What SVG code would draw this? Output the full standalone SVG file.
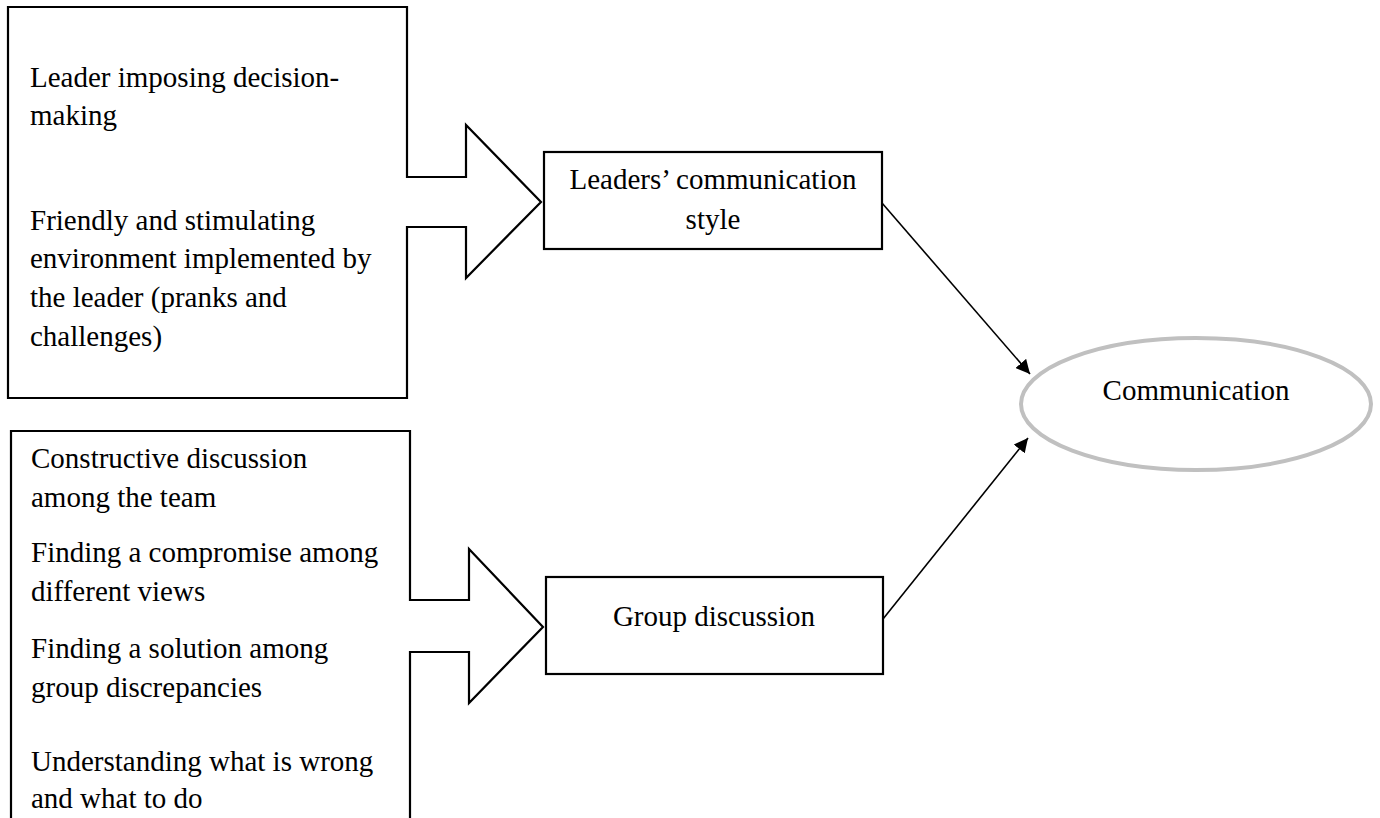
<svg xmlns="http://www.w3.org/2000/svg" width="1380" height="818" viewBox="0 0 1380 818">
  <style>
    .shape { fill: #ffffff; stroke: #000000; stroke-width: 2.2; stroke-linejoin: miter; }
    .label { font-family: "Liberation Serif", "Times New Roman", serif; font-size: 29px; fill: #000000; }
    .mid { text-anchor: middle; }
    .conn { stroke: #000000; stroke-width: 1.6; fill: none; marker-end: url(#head); }
    .oval { fill: #ffffff; stroke: #c0c0c0; stroke-width: 4; }
  </style>
  <defs>
    <marker id="head" viewBox="0 0 14 14" refX="14" refY="7" markerWidth="14" markerHeight="14" markerUnits="userSpaceOnUse" orient="auto">
      <path d="M0,0 L14,7 L0,14 Z" fill="#000000"/>
    </marker>
  </defs>
  <rect width="1380" height="818" fill="#ffffff"/>

  <!-- Leadership factors box with its block arrow -->
  <g id="leader-factors">
    <path class="shape" d="M8,7 H407 V177 H466 V125 L541,202 L466,278 V227 H407 V398 H8 Z"/>
    <text class="label" x="30" y="87">Leader imposing decision-</text>
    <text class="label" x="30" y="125">making</text>
    <text class="label" x="30" y="230">Friendly and stimulating</text>
    <text class="label" x="30" y="268">environment implemented by</text>
    <text class="label" x="30" y="307">the leader (pranks and</text>
    <text class="label" x="30" y="346">challenges)</text>
  </g>

  <!-- Group discussion factors box with its block arrow -->
  <g id="group-factors">
    <path class="shape" d="M11,431 H410 V600 H469 V549 L543,627 L469,703 V652 H410 V830 H11 Z"/>
    <text class="label" x="31" y="468">Constructive discussion</text>
    <text class="label" x="31" y="507">among the team</text>
    <text class="label" x="31" y="562">Finding a compromise among</text>
    <text class="label" x="31" y="601">different views</text>
    <text class="label" x="31" y="658">Finding a solution among</text>
    <text class="label" x="31" y="697">group discrepancies</text>
    <text class="label" x="31" y="771">Understanding what is wrong</text>
    <text class="label" x="31" y="808">and what to do</text>
  </g>

  <g id="leaders-style">
    <rect class="shape" x="544" y="152" width="338" height="97"/>
    <text class="label mid" x="713" y="189">Leaders’ communication</text>
    <text class="label mid" x="713" y="229">style</text>
  </g>

  <g id="group-discussion">
    <rect class="shape" x="546" y="577" width="337" height="97"/>
    <text class="label mid" x="714" y="626">Group discussion</text>
  </g>

  <g id="communication">
    <ellipse class="oval" cx="1196" cy="404" rx="175" ry="66"/>
    <text class="label mid" x="1196" y="400">Communication</text>
  </g>

  <g id="connectors">
    <line class="conn" x1="882" y1="203" x2="1030" y2="374"/>
    <line class="conn" x1="883" y1="619" x2="1028" y2="438"/>
  </g>
</svg>
